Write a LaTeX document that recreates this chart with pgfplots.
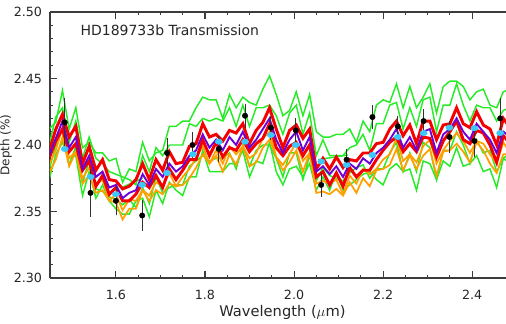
\documentclass[border=0pt]{standalone}
\usepackage{fontspec}
\setmainfont{DejaVu Sans}
\usepackage{pgfplots}
\usepackage{pgfplotstable}
\pgfplotsset{compat=1.18}
\definecolor{cgreen}{RGB}{40,235,40}
\definecolor{corange}{RGB}{255,160,0}
\definecolor{cred}{RGB}{245,0,0}
\definecolor{cpurple}{RGB}{110,0,215}
\definecolor{ccyan}{RGB}{60,200,250}
\definecolor{caxis}{RGB}{60,60,60}

\pgfplotstableread{
x g1 g2 r1 r2 o1 o2 g3 g4 p
1.450 2.412 2.400 2.395 2.390 2.385 2.379 2.381 2.374 2.392
1.465 2.417 2.421 2.412 2.403 2.396 2.389 2.400 2.393 2.405
1.480 2.441 2.428 2.423 2.412 2.413 2.406 2.413 2.402 2.418
1.495 2.412 2.402 2.406 2.395 2.390 2.384 2.385 2.390 2.398
1.510 2.428 2.418 2.414 2.401 2.395 2.395 2.399 2.392 2.406
1.525 2.398 2.390 2.386 2.381 2.375 2.371 2.371 2.362 2.382
1.540 2.402 2.406 2.399 2.388 2.383 2.377 2.389 2.380 2.392
1.555 2.394 2.390 2.381 2.369 2.370 2.364 2.367 2.360 2.376
1.570 2.394 2.386 2.389 2.377 2.374 2.366 2.365 2.370 2.380
1.585 2.388 2.380 2.374 2.363 2.358 2.358 2.361 2.358 2.368
1.600 2.390 2.378 2.373 2.368 2.363 2.357 2.359 2.352 2.370
1.615 2.372 2.376 2.367 2.358 2.351 2.344 2.355 2.348 2.360
1.630 2.382 2.374 2.369 2.358 2.359 2.352 2.359 2.348 2.364
1.645 2.380 2.370 2.374 2.363 2.358 2.352 2.353 2.358 2.366
1.660 2.402 2.392 2.386 2.372 2.366 2.366 2.368 2.360 2.378
1.675 2.388 2.380 2.374 2.368 2.362 2.358 2.356 2.346 2.370
1.690 2.394 2.398 2.389 2.377 2.372 2.366 2.376 2.366 2.382
1.705 2.396 2.392 2.381 2.368 2.369 2.363 2.364 2.356 2.376
1.720 2.414 2.400 2.395 2.382 2.379 2.371 2.368 2.372 2.386
1.735 2.414 2.400 2.386 2.374 2.369 2.369 2.370 2.366 2.380
1.750 2.418 2.400 2.387 2.381 2.376 2.370 2.370 2.362 2.384
1.765 2.418 2.416 2.399 2.389 2.382 2.375 2.384 2.376 2.392
1.780 2.428 2.414 2.401 2.389 2.390 2.383 2.388 2.376 2.396
1.795 2.436 2.420 2.416 2.404 2.399 2.393 2.392 2.396 2.408
1.810 2.434 2.418 2.406 2.392 2.386 2.386 2.388 2.380 2.398
1.825 2.434 2.420 2.408 2.402 2.396 2.392 2.390 2.380 2.404
1.840 2.420 2.418 2.403 2.391 2.386 2.380 2.390 2.380 2.396
1.855 2.438 2.428 2.411 2.398 2.399 2.393 2.394 2.386 2.406
1.870 2.428 2.414 2.409 2.396 2.393 2.385 2.382 2.386 2.400
1.885 2.436 2.430 2.416 2.404 2.399 2.399 2.400 2.396 2.410
1.900 2.432 2.414 2.401 2.395 2.390 2.384 2.384 2.376 2.398
1.915 2.430 2.428 2.411 2.401 2.394 2.387 2.396 2.388 2.404
1.930 2.442 2.428 2.417 2.405 2.405 2.398 2.400 2.386 2.412
1.945 2.452 2.430 2.428 2.416 2.410 2.404 2.400 2.402 2.420
1.960 2.438 2.422 2.412 2.398 2.391 2.391 2.390 2.380 2.404
1.975 2.422 2.408 2.398 2.392 2.385 2.381 2.376 2.370 2.394
1.990 2.426 2.424 2.411 2.399 2.393 2.387 2.394 2.382 2.404
2.005 2.440 2.430 2.415 2.402 2.402 2.396 2.394 2.384 2.410
2.020 2.422 2.408 2.405 2.392 2.388 2.380 2.374 2.376 2.396
2.035 2.438 2.424 2.412 2.400 2.394 2.394 2.392 2.386 2.406
2.050 2.410 2.392 2.382 2.376 2.371 2.364 2.373 2.366 2.380
2.065 2.406 2.404 2.390 2.380 2.373 2.365 2.383 2.376 2.384
2.080 2.406 2.392 2.382 2.370 2.371 2.363 2.377 2.366 2.378
2.095 2.408 2.392 2.391 2.379 2.374 2.367 2.375 2.380 2.384
2.110 2.408 2.392 2.383 2.369 2.363 2.362 2.373 2.366 2.376
2.125 2.412 2.398 2.389 2.383 2.377 2.372 2.379 2.370 2.386
2.140 2.402 2.400 2.388 2.376 2.371 2.364 2.383 2.374 2.382
2.155 2.418 2.408 2.394 2.381 2.382 2.375 2.385 2.378 2.390
2.170 2.410 2.396 2.394 2.381 2.378 2.369 2.375 2.380 2.386
2.185 2.430 2.416 2.401 2.389 2.382 2.381 2.382 2.374 2.394
2.200 2.434 2.416 2.402 2.396 2.389 2.382 2.382 2.370 2.398
2.215 2.432 2.430 2.412 2.402 2.393 2.385 2.394 2.382 2.404
2.230 2.446 2.432 2.418 2.406 2.405 2.397 2.402 2.386 2.412
2.245 2.428 2.412 2.407 2.395 2.388 2.381 2.380 2.380 2.398
2.260 2.444 2.428 2.415 2.401 2.393 2.392 2.394 2.382 2.406
2.275 2.428 2.414 2.401 2.395 2.387 2.382 2.380 2.366 2.396
2.290 2.436 2.434 2.418 2.406 2.399 2.392 2.402 2.388 2.410
2.305 2.446 2.436 2.418 2.405 2.404 2.397 2.398 2.386 2.412
2.320 2.424 2.410 2.404 2.391 2.386 2.377 2.374 2.374 2.394
2.335 2.444 2.430 2.415 2.403 2.396 2.395 2.396 2.388 2.408
2.350 2.448 2.430 2.416 2.410 2.403 2.396 2.396 2.384 2.412
2.365 2.448 2.446 2.428 2.418 2.409 2.401 2.410 2.398 2.420
2.380 2.444 2.430 2.416 2.404 2.403 2.395 2.400 2.384 2.410
2.395 2.434 2.418 2.413 2.401 2.394 2.387 2.386 2.386 2.404
2.410 2.440 2.430 2.425 2.411 2.403 2.402 2.404 2.392 2.416
2.425 2.442 2.428 2.415 2.409 2.401 2.396 2.394 2.380 2.410
2.440 2.430 2.428 2.412 2.400 2.393 2.386 2.396 2.382 2.404
2.455 2.428 2.418 2.400 2.387 2.386 2.379 2.380 2.368 2.394
2.470 2.440 2.426 2.420 2.407 2.402 2.393 2.390 2.390 2.410
2.485 2.442 2.428 2.413 2.401 2.394 2.393 2.394 2.386 2.406
}\spectra

\pgfplotstableread{
x y e
1.485 2.417 0.016
1.543 2.364 0.016
1.600 2.358 0.009
1.659 2.347 0.010
1.715 2.394 0.009
1.772 2.400 0.008
1.831 2.397 0.008
1.890 2.422 0.007
1.948 2.413 0.007
2.004 2.411 0.007
2.061 2.370 0.007
2.118 2.389 0.006
2.176 2.421 0.007
2.233 2.414 0.006
2.291 2.418 0.007
2.349 2.406 0.010
2.405 2.403 0.010
2.463 2.420 0.013
}\obs

\pgfplotstableread{
x y
1.485 2.397
1.543 2.376
1.600 2.363
1.659 2.370
1.715 2.379
1.773 2.393
1.831 2.4025
1.890 2.4025
1.948 2.4075
2.004 2.400
2.061 2.3875
2.118 2.385
2.176 2.3925
2.233 2.406
2.291 2.409
2.349 2.413
2.405 2.4126
2.463 2.409
}\binned

\begin{document}
\begin{tikzpicture}
\begin{axis}[
  scale only axis,
  width=342pt, height=199.5pt,
  xmin=1.452, xmax=2.476,
  ymin=2.30, ymax=2.50,
  axis x line*=box, axis y line*=left,
  axis line style={caxis, line width=0.9pt},
  tick style={caxis, line width=0.8pt},
  tick align=inside,
  major tick length=5pt, minor tick length=2.5pt,
  xtick={1.6,1.8,2.0,2.2,2.4},
  minor x tick num=3,
  ytick={2.30,2.35,2.40,2.45,2.50},
  minor y tick num=4,
  /pgf/number format/assume math mode=true,
  ticklabel style={font=\fontsize{9.5}{11}\selectfont, text=black!85},
  xticklabel style={/pgf/number format/.cd, fixed, fixed zerofill, precision=1, /tikz/.cd, yshift=-5.5pt},
  yticklabel style={/pgf/number format/.cd, fixed, fixed zerofill, precision=2, /tikz/.cd, xshift=-2.5pt},
  xlabel={Wavelength ($\mu$m)},
  xlabel style={at={(axis cs:1.974,2.30)}, anchor=center, yshift=-25.5pt, font=\fontsize{11}{13}\selectfont, text=black!85},
]
\addplot[cgreen, line width=1.1pt] table[x=x, y=g1] {\spectra};
\addplot[cgreen, line width=1.1pt] table[x=x, y=g2] {\spectra};
\addplot[cgreen, line width=1.1pt] table[x=x, y=g3] {\spectra};
\addplot[cgreen, line width=1.1pt] table[x=x, y=g4] {\spectra};
\addplot[cgreen, line width=1.1pt] coordinates {(1.613,2.368) (1.660,2.375)};
\addplot[cgreen, line width=1.1pt] coordinates {(2.054,2.389) (2.121,2.3925)};
\addplot[corange, line width=1.3pt] table[x=x, y=o2] {\spectra};
\addplot[corange, line width=1.3pt] table[x=x, y=o1] {\spectra};
\addplot[cred, line width=2.2pt] table[x=x, y=r2] {\spectra};
\addplot[cred, line width=2.2pt] table[x=x, y=r1] {\spectra};
\addplot[cpurple, line width=1.4pt] table[x=x, y=p] {\spectra};
\addplot[only marks, mark=*, mark size=2pt, mark options={fill=ccyan, draw=ccyan, xscale=1.35}] table[x=x, y=y] {\binned};
\addplot[only marks, mark=*, mark size=2pt, mark options={fill=black, draw=black},
  error bars/.cd, y dir=both, y explicit,
  error bar style={black!80, line width=0.6pt},
  error mark options={black!80, mark size=2pt, line width=0.6pt}]
  table[x=x, y=y, y error=e] {\obs};
\node[anchor=west, font=\fontsize{10.5}{12}\selectfont, text=black!85] at (axis cs:1.510,2.486) {HD189733b Transmission};
\end{axis}
\node[rotate=90, font=\fontsize{9}{11}\selectfont, text=black!85] at (-33pt,99.75pt) {Depth (\%)};
\pgfresetboundingbox
\useasboundingbox (-37.5pt,-34.5pt) rectangle (342pt,208.5pt);
\end{tikzpicture}
\end{document}
